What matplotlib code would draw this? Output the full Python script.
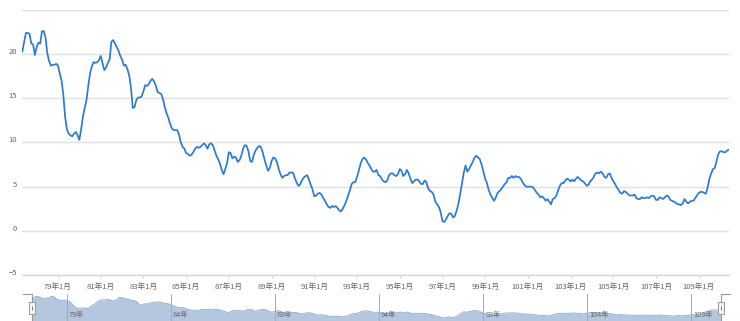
import numpy as np
import matplotlib.pyplot as plt
from matplotlib.transforms import ScaledTranslation

plt.rcParams['font.family'] = ['Noto Sans CJK TC', 'DejaVu Sans']

# monthly series, starts at 民國77年5月
START_YEAR, START_MONTH = 77, 5

rate = [
    20.3, 21.4, 22.4, 22.4, 22.3, 21.2, 21.1, 19.9,                      # 77
    20.8, 21.3, 21.2, 22.6, 22.6, 21.9, 20.1, 19.2, 18.7, 18.8, 18.8, 18.9,  # 78
    18.7, 17.8, 17.0, 15.4, 12.9, 11.5, 11.0, 10.8, 10.7, 11.0, 11.2, 10.8,  # 79
    10.3, 11.5, 12.9, 13.9, 14.8, 16.4, 17.8, 18.6, 19.1, 19.0, 19.1, 19.3,  # 80
    19.8, 19.0, 18.2, 18.5, 19.0, 19.4, 21.4, 21.6, 21.2, 20.8, 20.4, 19.8,  # 81
    19.4, 18.7, 18.8, 18.3, 17.6, 16.2, 13.9, 14.0, 14.8, 15.1, 15.1, 15.2,  # 82
    15.8, 16.5, 16.4, 16.6, 17.0, 17.2, 16.9, 16.4, 15.7, 15.6, 15.5, 14.9,  # 83
    14.0, 13.3, 12.8, 12.1, 11.6, 11.4, 11.4, 11.4, 10.9, 10.0, 9.5, 9.3,    # 84
    8.8, 8.7, 8.5, 8.6, 8.9, 9.3, 9.5, 9.4, 9.5, 9.7, 9.9, 9.7,              # 85
    9.3, 9.8, 9.9, 9.7, 9.1, 8.5, 8.1, 7.6, 6.9, 6.4, 7.0, 7.7,              # 86
    8.9, 8.8, 8.2, 8.4, 8.3, 7.8, 8.0, 8.5, 9.3, 9.7, 9.6, 9.0,              # 87
    7.9, 7.8, 8.6, 9.1, 9.4, 9.6, 9.5, 8.9, 8.1, 7.4, 6.8, 7.1,              # 88
    7.9, 8.3, 8.2, 7.8, 7.0, 6.4, 6.0, 6.2, 6.3, 6.3, 6.6, 6.6,              # 89
    6.6, 6.0, 5.5, 5.1, 5.2, 5.7, 6.0, 6.2, 6.3, 5.8, 5.2, 4.7,              # 90
    3.9, 4.0, 4.2, 4.3, 4.1, 3.7, 3.4, 3.0, 2.7, 2.6, 2.8, 2.7,              # 91
    2.8, 2.6, 2.3, 2.2, 2.5, 2.9, 3.4, 4.0, 4.6, 5.3, 5.5, 5.5,              # 92
    6.1, 6.8, 7.6, 8.1, 8.3, 8.1, 7.7, 7.4, 7.0, 6.7, 6.7, 6.9,              # 93
    6.3, 6.2, 5.8, 5.6, 5.5, 5.7, 6.3, 6.5, 6.5, 6.3, 6.2, 6.4,              # 94
    7.0, 6.8, 6.2, 6.4, 6.9, 6.5, 5.9, 5.4, 5.6, 5.8, 5.8, 5.6,              # 95
    5.3, 5.3, 5.7, 5.5, 4.8, 4.5, 4.4, 4.1, 3.3, 3.0, 2.7, 2.1,              # 96
    1.1, 1.0, 1.3, 1.7, 2.0, 1.9, 1.5, 1.7, 2.3, 3.1, 4.2, 5.4,              # 97
    6.6, 7.4, 6.7, 7.0, 7.4, 7.8, 8.3, 8.5, 8.3, 8.1, 7.5, 6.7,              # 98
    5.9, 5.4, 4.6, 4.1, 3.7, 3.4, 3.8, 4.3, 4.5, 4.7, 5.0, 5.3,              # 99
    5.5, 6.0, 6.0, 6.2, 6.0, 6.2, 6.1, 6.1, 5.9, 5.5, 5.2, 5.0,              # 100
    5.0, 5.0, 5.0, 4.9, 4.6, 4.3, 4.1, 3.8, 3.9, 3.7, 3.4, 3.6,              # 101
    3.3, 3.0, 3.6, 3.7, 4.0, 4.6, 5.1, 5.4, 5.4, 5.7, 5.9, 5.8,              # 102
    5.6, 5.8, 5.6, 5.9, 6.1, 5.9, 5.7, 5.6, 5.4, 5.1, 5.2, 5.6,              # 103
    5.8, 6.1, 6.5, 6.6, 6.5, 6.7, 6.5, 6.1, 6.0, 6.4, 6.5, 6.0,              # 104
    5.6, 5.3, 4.9, 4.6, 4.3, 4.2, 4.5, 4.4, 4.2, 4.0, 4.0, 4.0,              # 105
    4.1, 3.7, 3.6, 3.6, 3.8, 3.7, 3.7, 3.8, 3.7, 3.9, 4.0, 3.9,              # 106
    3.5, 3.5, 3.8, 3.7, 3.6, 3.8, 4.0, 3.9, 3.5, 3.4, 3.3, 3.2,              # 107
    3.0, 3.0, 2.9, 3.1, 3.6, 3.3, 3.1, 3.3, 3.4, 3.4, 3.7, 4.0,              # 108
    4.3, 4.4, 4.4, 4.3, 4.2, 4.9, 5.9, 6.5, 7.0, 7.1, 7.9, 8.7,              # 109
    9.0, 9.0, 8.9, 8.9, 9.1, 9.2,                                          # 110
]

tick_years = list(range(79, 110, 2))
tick_labels = ['{}年1月'.format(y) for y in tick_years]
nav_years = list(range(79, 110, 5))
nav_labels = ['{}年'.format(y) for y in nav_years]
y_ticks = [-5, 0, 5, 10, 15, 20, 25]
y_labels = ['\u22125', '0', '5', '10', '15', '20', '']

LINE_COLOR = '#2b7ad4'
GRID_COLOR = '#e0e0e0'
TEXT_COLOR = '#666666'

W, H = 740, 321
t = START_YEAR + (START_MONTH - 1 + np.arange(len(rate))) / 12.0

fig = plt.figure(figsize=(W / 100, H / 100), dpi=100)
fig.patch.set_facecolor('white')

# main chart
ax = fig.add_axes([22.4 / W, 1 - 275 / H, (729 - 22.4) / W, 265 / H])
ax.plot(t, rate, color=LINE_COLOR, lw=1.25, zorder=3)
ax.set_xlim(t[0], t[-1])
ax.set_ylim(-5, 25)
ax.set_yticks(y_ticks)
ax.set_yticklabels(y_labels)
ax.set_xticks(tick_years)
ax.set_xticklabels(tick_labels)
ax.yaxis.grid(True, color=GRID_COLOR, lw=1.0)
ax.set_axisbelow(True)
for s in ['top', 'left', 'right']:
    ax.spines[s].set_visible(False)
ax.spines['bottom'].set_color('#d3d8e2')
ax.spines['bottom'].set_linewidth(1.0)
ax.tick_params(axis='x', length=2.5, width=0.8, color='#ccd6eb',
               labelsize=5.5, labelcolor=TEXT_COLOR, pad=3)
ax.tick_params(axis='y', length=0, labelsize=5.5, labelcolor=TEXT_COLOR, pad=4)
up = ScaledTranslation(0, 3 / 100, fig.dpi_scale_trans)
for lab in ax.get_yticklabels():
    lab.set_transform(lab.get_transform() + up)

# navigator
nav = fig.add_axes([23 / W, 0, (730 - 23) / W, 27 / H])
span = t[-1] - t[0]
margin = 9 * span / (721 - 32)
x0, x1 = t[0] - margin, t[-1] + margin
nav.set_xlim(x0, x1)
nav.set_ylim(-2, 25)
nav.axis('off')
nav.fill_between(t, -2, rate, color='#b5c7de', lw=0, zorder=1)
nav.plot(t, rate, color='#8ea7c9', lw=0.6, zorder=2)
for yr, lab in zip(nav_years, nav_labels):
    nav.axvline(yr, color='#aaaaaa', lw=0.7, zorder=3)
    nav.text(yr, 0.22, lab, transform=nav.get_xaxis_transform() +
             ScaledTranslation(2 / 100, 0, fig.dpi_scale_trans),
             ha='left', va='center', fontsize=5.2, color=TEXT_COLOR, zorder=4)

# outline + handles
nav.plot([x0, t[0], t[0]], [25, 25, -2], color='#999999', lw=0.8,
         clip_on=False, zorder=5)
nav.plot([t[-1], t[-1], x1], [-2, 25, 25], color='#999999', lw=0.8,
         clip_on=False, zorder=5)
handle = [(-2.5, -5.5), (2.5, -5.5), (2.5, 5.5), (-2.5, 5.5), (-2.5, -5.5)]
nav.plot([t[0], t[-1]], [11.5, 11.5], linestyle='none', marker=handle,
         markersize=8, mfc='#f4f4f4', mec='#999999', mew=0.7, zorder=6,
         clip_on=False)
nav.plot([t[0], t[-1]], [11.5, 11.5], linestyle='none', marker='|',
         markersize=3, mec='#666666', mew=0.6, zorder=7, clip_on=False)

fig.savefig('out.png', dpi=100)
